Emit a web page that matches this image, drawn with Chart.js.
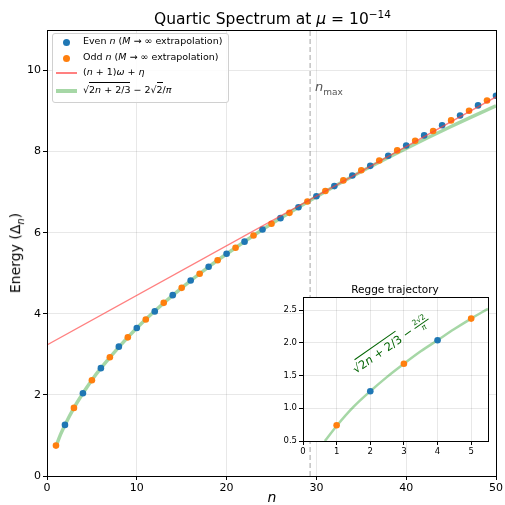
<!DOCTYPE html>
<html>
<head>
<meta charset="utf-8">
<script src="https://cdn.jsdelivr.net/npm/chart.js@4/dist/chart.umd.min.js"></script>
<style>
body { margin: 0; background: #fff; font-family: "DejaVu Sans", sans-serif; }
#wrap { position: relative; width: 505px; height: 505px; overflow: hidden; }
canvas { position: absolute; }
.txt { position: absolute; white-space: nowrap; color: #000; line-height: 1; }
.rt { border-top: 1px solid currentColor; padding-top: 1px; }
.frac { display: inline-flex; flex-direction: column; align-items: center; vertical-align: middle; font-size: 65%; line-height: 1.05; }
.frac .num { border-bottom: 1px solid currentColor; padding: 0 1px; }
</style>
</head>
<body>
<div id="wrap">
  <canvas id="main" width="505" height="505" style="left:0;top:0"></canvas>
  <canvas id="inset" width="235" height="185" style="left:268px;top:276px"></canvas>

  <div class="txt" style="left:0;width:545px;top:9px;text-align:center;font-size:15.5px">Quartic Spectrum at <i>μ</i> = 10<sup style="font-size:10.5px">−14</sup></div>
  <div class="txt" style="left:17px;top:253px;font-size:14px;transform:translate(-50%,-50%) rotate(-90deg)">Energy (Δ<sub style="font-size:10px"><i>n</i></sub>)</div>
  <div class="txt" style="left:272px;top:490px;font-size:14px;transform:translateX(-50%)"><i>n</i></div>
  <div class="txt" style="left:315px;top:80px;font-size:13px;color:#555"><i>n</i><sub style="font-size:9px">max</sub></div>

  <div id="legend" class="txt" style="left:52px;top:33px;width:175px;height:68px;border:1px solid #d0d0d0;border-radius:3px;background:rgba(255,255,255,0.85)"></div>

  <div class="txt" style="left:395px;top:284px;font-size:10.5px;transform:translateX(-50%)">Regge trajectory</div>
  <div class="txt" style="left:391px;top:345px;font-size:11.5px;color:#006400;transform:translate(-50%,-50%) rotate(-35deg)">√<span class="rt">2<i>n</i> + 2/3</span> − <span class="frac"><span class="num">2√2</span><span><i>π</i></span></span></div>
</div>

<script>
// Main spectrum data
const nEven = [2,4,6,8,10,12,14,16,18,20,22,24,26,28,30,32,34,36,38,40,42,44,46,48,50];
const energyEven = [1.26,2.04,2.66,3.19,3.65,4.06,4.46,4.82,5.16,5.48,5.78,6.08,6.36,6.63,6.90,7.15,7.41,7.65,7.90,8.15,8.40,8.65,8.89,9.14,9.38];
const nOdd = [1,3,5,7,9,11,13,15,17,19,21,23,25,27,29,31,33,35,37,39,41,43,45,47,49];
const energyOdd = [0.75,1.68,2.36,2.93,3.42,3.86,4.27,4.64,4.99,5.32,5.63,5.93,6.22,6.49,6.77,7.03,7.29,7.54,7.78,8.03,8.27,8.51,8.77,9.01,9.26];

// WKB curve sqrt(2n+2/3) - 2sqrt2/pi, sampled
const nCurve = [1,1.5,2,3,4,5,6,8,10,12,15,18,21,25,30,35,40,45,50];
const energyCurve = [0.73,1.02,1.26,1.68,2.04,2.37,2.66,3.18,3.65,4.07,4.64,5.16,5.63,6.22,6.89,7.51,8.08,8.62,9.13];

// (n+1)w + eta line
const nLine = [0, 50];
const energyLine = [3.23, 9.35];

const nMax = 29.3;
const xTicksMain = [0,10,20,30,40,50];
const yTicksMain = [0,2,4,6,8,10];

// Inset (Regge trajectory)
const nInset = [1,2,3,4,5];
const energyInset = [0.74,1.26,1.68,2.04,2.37];
const nInsetCurve = [0.65,1,1.5,2,2.5,3,3.5,4,4.5,5,5.5];
const energyInsetCurve = [0.50,0.73,1.02,1.26,1.48,1.68,1.87,2.04,2.21,2.37,2.52];
const xTicksInset = [0,1,2,3,4,5];
const yTicksInset = [0.5,1.0,1.5,2.0,2.5];

const BLUE = '#1f77b4', ORANGE = '#ff7f0e';
const GREEN = 'rgba(44,160,44,0.42)', RED = 'rgba(255,60,60,0.65)';

const pts = (xs, ys) => xs.map((x, i) => ({ x: x, y: ys[i] }));

// black box around the plotting area, optional white fill underneath
const framePlugin = {
    id: 'frame',
    beforeDraw(chart, args, opts) {
        if (!opts.fill) return;
        const a = chart.chartArea, ctx = chart.ctx;
        ctx.save();
        ctx.fillStyle = '#fff';
        ctx.fillRect(a.left, a.top, a.right - a.left, a.bottom - a.top);
        ctx.restore();
    },
    afterDraw(chart) {
        const a = chart.chartArea, ctx = chart.ctx;
        ctx.save();
        ctx.strokeStyle = '#000';
        ctx.lineWidth = 1;
        ctx.strokeRect(Math.round(a.left) + 0.5, Math.round(a.top) + 0.5,
                       Math.round(a.right - a.left), Math.round(a.bottom - a.top));
        ctx.restore();
    }
};

function axis(min, max, ticks, size, fitKey, fitVal, fmt) {
    return {
        type: 'linear', min: min, max: max,
        afterBuildTicks: s => { s.ticks = ticks.map(v => ({ value: v })); },
        afterFit: s => { s[fitKey] = fitVal; },
        ticks: {
            color: '#000', padding: 2, font: { family: 'DejaVu Sans', size: size },
            callback: fmt || (v => v)
        },
        grid: { color: 'rgba(0,0,0,0.09)', tickColor: '#000', tickLength: 4 },
        border: { color: '#000' }
    };
}

new Chart(document.getElementById('main'), {
    type: 'scatter',
    data: {
        datasets: [
            { label: 'curve', data: pts(nCurve, energyCurve), showLine: true, borderColor: GREEN,
              borderWidth: 3.5, pointRadius: 0, cubicInterpolationMode: 'monotone', order: 4 },
            { label: 'even', data: pts(nEven, energyEven), backgroundColor: BLUE,
              pointRadius: 3.3, borderWidth: 0, order: 2 },
            { label: 'odd', data: pts(nOdd, energyOdd), backgroundColor: ORANGE,
              pointRadius: 3.3, borderWidth: 0, order: 2 },
            { label: 'line', data: pts(nLine, energyLine), showLine: true, borderColor: RED,
              borderWidth: 1.3, pointRadius: 0, order: 1 },
            { label: 'nmax', data: [{ x: nMax, y: 0 }, { x: nMax, y: 11 }], showLine: true,
              borderColor: 'rgba(128,128,128,0.6)', borderWidth: 1.2, borderDash: [5, 3],
              pointRadius: 0, order: 0 }
        ]
    },
    options: {
        responsive: false,
        animation: false,
        layout: { padding: { left: 0, top: 30, right: 8, bottom: 0 } },
        scales: {
            x: axis(0, 50, xTicksMain, 11, 'height', 29),
            y: axis(0, 11, yTicksMain, 11, 'width', 47)
        },
        plugins: { legend: { display: false }, tooltip: { enabled: false }, frame: {} }
    },
    plugins: [framePlugin]
});

new Chart(document.getElementById('inset'), {
    type: 'scatter',
    data: {
        datasets: [
            { data: pts(nInsetCurve, energyInsetCurve), showLine: true, borderColor: GREEN,
              borderWidth: 2.5, pointRadius: 0, cubicInterpolationMode: 'monotone', order: 3 },
            { data: pts(nInset, energyInset),
              backgroundColor: nInset.map(n => n % 2 === 0 ? BLUE : ORANGE),
              pointRadius: 3.3, borderWidth: 0, order: 1 }
        ]
    },
    options: {
        responsive: false,
        animation: false,
        layout: { padding: { left: 0, top: 21, right: 15, bottom: 0 } },
        scales: {
            x: axis(0, 5.5, xTicksInset, 8.5, 'height', 20),
            y: axis(0.5, 2.7, yTicksInset, 8.5, 'width', 35, v => v.toFixed(1))
        },
        plugins: { legend: { display: false }, tooltip: { enabled: false }, frame: { fill: true } }
    },
    plugins: [framePlugin]
});

// legend (HTML so the math can be typeset)
const legendItems = [
    { kind: 'dot', color: BLUE, html: 'Even <i>n</i> (<i>M</i> → ∞ extrapolation)' },
    { kind: 'dot', color: ORANGE, html: 'Odd <i>n</i> (<i>M</i> → ∞ extrapolation)' },
    { kind: 'line', color: RED, width: 1.5, html: '(<i>n</i> + 1)<i>ω</i> + <i>η</i>' },
    { kind: 'line', color: GREEN, width: 3.5, html: '√<span class="rt">2<i>n</i> + 2/3</span> − 2√<span class="rt">2</span>/<i>π</i>' }
];
const legendRows = [8, 24, 39, 57];
const legend = document.getElementById('legend');
legendItems.forEach((item, i) => {
    const y = legendRows[i];
    const mark = document.createElement('div');
    mark.style.position = 'absolute';
    if (item.kind === 'dot') {
        Object.assign(mark.style, { left: '10px', top: (y - 3) + 'px', width: '7px', height: '7px',
            borderRadius: '50%', background: item.color });
    } else {
        Object.assign(mark.style, { left: '3px', top: (y - item.width / 2) + 'px', width: '21px',
            height: item.width + 'px', background: item.color });
    }
    legend.appendChild(mark);
    const label = document.createElement('div');
    label.className = 'txt';
    Object.assign(label.style, { left: '30px', top: (y - 6) + 'px', fontSize: '9.5px' });
    label.innerHTML = item.html;
    legend.appendChild(label);
});
</script>
</body>
</html>
